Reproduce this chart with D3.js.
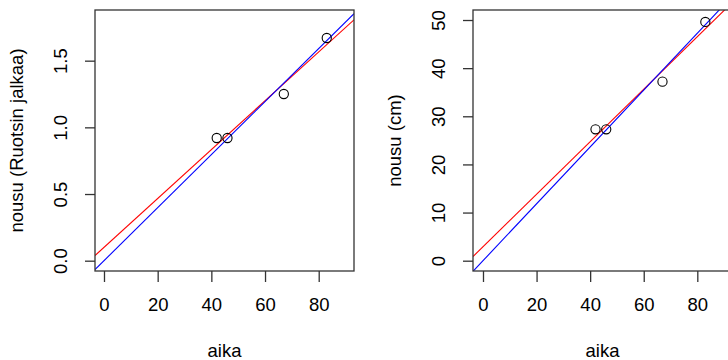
<!DOCTYPE html>
<html>
<head>
<meta charset="utf-8">
<script src="https://cdn.jsdelivr.net/npm/d3@7"></script>
<style>
  body { margin: 0; background: #fff; }
  svg { display: block; font-family: "Liberation Sans", Arial, sans-serif; }
</style>
</head>
<body>
<div id="chart"></div>
<script>
// data
const aika = [42, 46, 67, 83];
const nousuFt = [0.92, 0.92, 1.25, 1.67];
const nousuCm = [27.3, 27.3, 37.2, 49.6];

const xTicks = [0, 20, 40, 60, 80];
const yTicksFt = [0, 0.5, 1.0, 1.5];
const yTicksCm = [0, 10, 20, 30, 40, 50];

const W = 728, H = 360;
const FONT = 18.5;

const svg = d3.select('#chart').append('svg')
  .attr('width', W)
  .attr('height', H);

// least squares fit, with and without intercept
function fitLm(xs, ys) {
  const mx = d3.mean(xs), my = d3.mean(ys);
  const sxy = d3.sum(xs, (x, i) => (x - mx) * (ys[i] - my));
  const sxx = d3.sum(xs, x => (x - mx) ** 2);
  const b = sxy / sxx;
  return { a: my - b * mx, b };
}
function fitOrigin(xs, ys) {
  const b = d3.sum(xs, (x, i) => x * ys[i]) / d3.sum(xs, x => x * x);
  return { a: 0, b };
}

function panel(opts) {
  const { id, box, xDomain, yDomain, ys, yTicks, yFmt, ylab } = opts;
  const x = d3.scaleLinear().domain(xDomain).range([box.left, box.right]);
  const y = d3.scaleLinear().domain(yDomain).range([box.bottom, box.top]);

  const g = svg.append('g');

  g.append('clipPath').attr('id', id)
    .append('rect')
    .attr('x', box.left).attr('y', box.top)
    .attr('width', box.right - box.left).attr('height', box.bottom - box.top);

  // fitted lines
  const fits = [
    { f: fitLm(aika, ys), color: '#ff0000' },
    { f: fitOrigin(aika, ys), color: '#0000ff' }
  ];
  const lines = g.append('g').attr('clip-path', `url(#${id})`);
  fits.forEach(({ f, color }) => {
    lines.append('line')
      .attr('x1', x(xDomain[0])).attr('y1', y(f.a + f.b * xDomain[0]))
      .attr('x2', x(xDomain[1])).attr('y2', y(f.a + f.b * xDomain[1]))
      .attr('stroke', color)
      .attr('stroke-width', 1.1);
  });

  // points
  g.selectAll('circle.pt')
    .data(aika.map((d, i) => [d, ys[i]]))
    .join('circle')
    .attr('class', 'pt')
    .attr('cx', d => x(d[0]))
    .attr('cy', d => y(d[1]))
    .attr('r', 4.6)
    .attr('fill', 'none')
    .attr('stroke', '#000')
    .attr('stroke-width', 1.1);

  // box
  g.append('rect')
    .attr('x', box.left).attr('y', box.top)
    .attr('width', box.right - box.left).attr('height', box.bottom - box.top)
    .attr('fill', 'none')
    .attr('stroke', '#333')
    .attr('stroke-width', 1.3);

  // x axis
  const xa = g.append('g')
    .attr('transform', `translate(0,${box.bottom})`)
    .call(d3.axisBottom(x).tickValues(xTicks).tickSize(11).tickPadding(16).tickFormat(d3.format('d')));
  xa.select('.domain').remove();
  xa.selectAll('line').attr('stroke', '#333').attr('stroke-width', 1.3);
  xa.selectAll('text')
    .attr('font-size', FONT)
    .attr('font-family', '"Liberation Sans", Arial, sans-serif')
    .attr('fill', '#000');

  // y axis, labels rotated like R
  const ya = g.append('g')
    .attr('transform', `translate(${box.left},0)`)
    .call(d3.axisLeft(y).tickValues(yTicks).tickSize(10).tickFormat(yFmt));
  ya.select('.domain').remove();
  ya.selectAll('line').attr('stroke', '#333').attr('stroke-width', 1.3);
  ya.selectAll('text')
    .attr('x', null).attr('dy', null)
    .attr('font-size', FONT)
    .attr('font-family', '"Liberation Sans", Arial, sans-serif')
    .attr('fill', '#000')
    .attr('text-anchor', 'middle')
    .attr('transform', 'translate(-28,0) rotate(-90)');

  // titles
  g.append('text')
    .attr('x', (box.left + box.right) / 2)
    .attr('y', 357)
    .attr('text-anchor', 'middle')
    .attr('font-size', FONT)
    .text('aika');

  g.append('text')
    .attr('transform', `translate(${box.left - 71.7},${(box.top + box.bottom) / 2}) rotate(-90)`)
    .attr('text-anchor', 'middle')
    .attr('font-size', FONT)
    .text(ylab);
}

panel({
  id: 'clipL',
  box: { left: 95, right: 354, top: 10, bottom: 271 },
  xDomain: [-3.35, 93.15],
  yDomain: [-0.0773, 1.880],
  ys: nousuFt,
  yTicks: yTicksFt,
  yFmt: d3.format('.1f'),
  ylab: 'nousu (Ruotsin jalkaa)'
});

panel({
  id: 'clipR',
  box: { left: 473, right: 732, top: 10, bottom: 271 },
  xDomain: [-3.73, 92.95],
  yDomain: [-2.14, 52.08],
  ys: nousuCm,
  yTicks: yTicksCm,
  yFmt: d3.format('d'),
  ylab: 'nousu (cm)'
});
</script>
</body>
</html>
